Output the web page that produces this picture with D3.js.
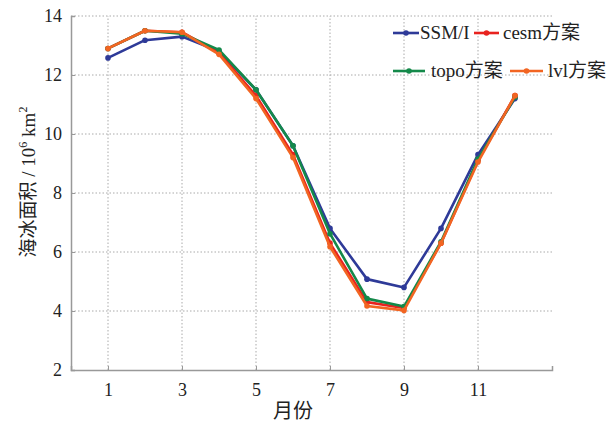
<!DOCTYPE html>
<html><head><meta charset="utf-8">
<script src="https://cdn.jsdelivr.net/npm/d3@7"></script>
<style>body{margin:0;background:#fff}svg{display:block}
svg text{font-family:"Liberation Serif","Noto Sans CJK SC",serif !important;fill:#222}</style>
</head><body><svg id="c" width="612" height="425"></svg>
<script>
const months = [1,2,3,4,5,6,7,8,9,10,11,12];
const ssmi = [12.58,13.18,13.3,12.8,11.5,9.6,6.8,5.08,4.8,6.8,9.3,11.2];
const cesm = [12.9,13.5,13.45,12.75,11.3,9.3,6.3,4.3,4.1,6.3,9.1,11.3];
const topo = [12.9,13.5,13.4,12.85,11.5,9.6,6.62,4.42,4.15,6.35,9.15,11.25];
const lvl  = [12.9,13.5,13.45,12.7,11.2,9.2,6.18,4.17,4.02,6.3,9.05,11.3];
const seriesNames = ["SSM/I","cesm方案","topo方案","lvl方案"];
const seriesColors = ["#2e3a98","#e8231f","#14894a","#f26522"];
const xTicks = [1,3,5,7,9,11];
const yTicks = [2,4,6,8,10,12,14];

const svg = d3.select("#c");
const x = d3.scaleLinear().domain([0,13]).range([71,552]);
const y = d3.scaleLinear().domain([2,14]).range([370,16]);

// grid
const g = svg.append("g");
g.selectAll(".vg").data(xTicks).join("line")
 .attr("x1",d=>x(d)).attr("x2",d=>x(d)).attr("y1",y(2)).attr("y2",y(14))
 .attr("stroke","#aaa").attr("stroke-width",1).attr("stroke-dasharray","1.5,2");
g.selectAll(".hg").data(yTicks.slice(1)).join("line")
 .attr("x1",x(0)).attr("x2",x(13)).attr("y1",d=>y(d)).attr("y2",d=>y(d))
 .attr("stroke","#aaa").attr("stroke-width",1).attr("stroke-dasharray","1.5,2");

// axes
const xa = svg.append("g").attr("transform",`translate(0,${y(2)})`)
 .call(d3.axisBottom(x).tickValues(xTicks).tickSize(-4).tickPadding(13));
const ya = svg.append("g").attr("transform",`translate(${x(0)},0)`)
 .call(d3.axisLeft(y).tickValues(yTicks).tickSize(-4).tickPadding(9));
[xa,ya].forEach(a=>{
  a.select(".domain").attr("stroke","#999").attr("stroke-width",1.5);
  a.selectAll(".tick line").attr("stroke","#999");
  a.selectAll("text").style("font-size","18px");
});

// lines
const data = [ssmi,cesm,topo,lvl];
const line = d3.line().x((d,i)=>x(months[i])).y(d=>y(d));
data.forEach((s,k)=>{
  svg.append("path").attr("d",line(s)).attr("fill","none")
   .attr("stroke",seriesColors[k]).attr("stroke-width",2.6).attr("stroke-linejoin","round");
  svg.append("g").selectAll("circle").data(s).join("circle")
   .attr("cx",(d,i)=>x(months[i])).attr("cy",d=>y(d)).attr("r",2.8).attr("fill",seriesColors[k]);
});

// legend
const leg = [
  {i:0,lx:393,len:26,ly:33,tx:420},
  {i:1,lx:474,len:25,ly:33,tx:503},
  {i:2,lx:393,len:32,ly:71,tx:431},
  {i:3,lx:510,len:33,ly:71,tx:548}
];
leg.forEach(L=>{
  const c = seriesColors[L.i];
  svg.append("line").attr("x1",L.lx).attr("x2",L.lx+L.len).attr("y1",L.ly).attr("y2",L.ly)
    .attr("stroke",c).attr("stroke-width",2.6);
  svg.append("circle").attr("cx",L.lx+L.len/2).attr("cy",L.ly).attr("r",2.8).attr("fill",c);
  svg.append("text").attr("x",L.tx).attr("y",L.ly+6).text(seriesNames[L.i])
    .style("font-size","19px");
});

// axis titles
svg.append("text").attr("x",293).attr("y",418).attr("text-anchor","middle")
  .style("font-size","20px").text("月份");
const yt = svg.append("text").attr("transform",`translate(35,182) rotate(-90)`)
  .attr("text-anchor","middle").style("font-size","19px");
yt.append("tspan").text("海冰面积 / 10");
yt.append("tspan").style("font-size","12px").attr("dy",-8).text("6");
yt.append("tspan").attr("dy",8).text(" km");
yt.append("tspan").style("font-size","12px").attr("dy",-8).text("2");
</script></body></html>
